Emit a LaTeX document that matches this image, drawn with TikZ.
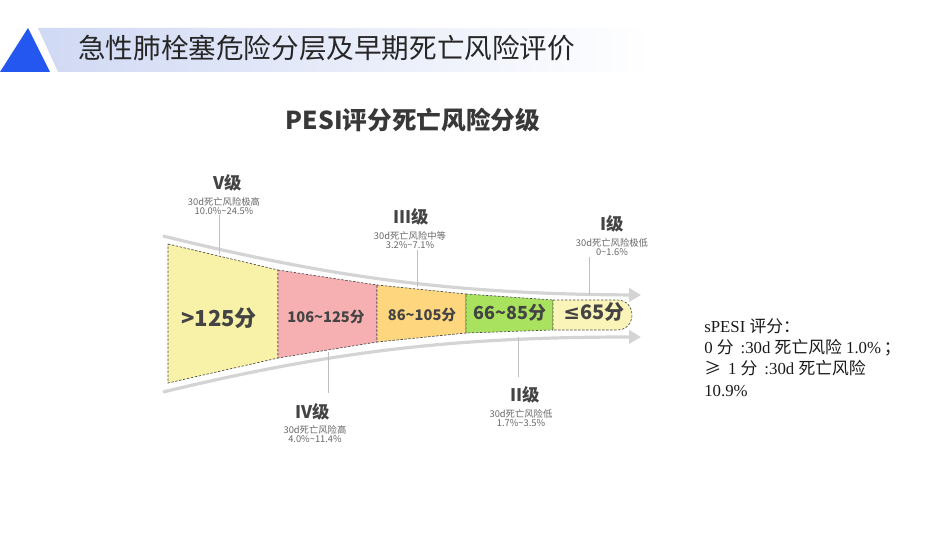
\documentclass[tikz,border=0pt]{standalone}
\usepackage{fontspec}
\setmainfont{Liberation Serif}
\newfontfamily\cjk{Noto Sans CJK SC}
\newfontfamily\djv{DejaVu Sans}
\usetikzlibrary{arrows.meta}
\definecolor{triblue}{HTML}{2457F0}
\definecolor{bandblue}{HTML}{D0D9F4}
\definecolor{segyellow}{HTML}{F8F2A8}
\definecolor{segpink}{HTML}{F6B0B2}
\definecolor{segorange}{HTML}{FDD67E}
\definecolor{seggreen}{HTML}{A9E25E}
\definecolor{segpale}{HTML}{FAF4B8}
\definecolor{txtdark}{HTML}{444444}
\newcommand\zh[1]{{\cjk #1}}
\begin{document}
\begin{tikzpicture}[x=0.75pt,y=-0.75pt,
  segbox/.style={draw=black!70, dash pattern=on 1.8pt off 1.2pt, line width=0.5pt},
  segtxt/.style={font=\cjk\bfseries, text=txtdark, inner sep=0pt},
  lvl/.style={font=\cjk\bfseries\fontsize{13}{15}\selectfont, text=txtdark, inner sep=0pt},
  smalltxt/.style={font=\cjk\fontsize{7}{6.6}\selectfont, text=black!60, align=center, inner sep=0pt},
  leader/.style={draw=black!25, line width=0.7pt},
  grayband/.style={draw=black!17, line width=2.4pt, -{Triangle[length=9pt,width=10pt]}}]
\useasboundingbox (0,0) rectangle (950,535);
% title bar
\shade[left color=bandblue, right color=white] (38,28) -- (650,28) -- (650,72) -- (58,72) -- cycle;
\fill[triblue] (0,72) -- (28,28) -- (50,72) -- cycle;
\node[anchor=west, font=\cjk\fontsize{20.7}{24}\selectfont, text=black!85, inner sep=0pt] (title) at (78,48) {急性肺栓塞危险分层及早期死亡风险评价};
% chart title
\node[font=\cjk\bfseries\fontsize{18.5}{22}\selectfont, text=black!78, inner sep=0pt] (pesi) at (413,120) {PESI评分死亡风险分级};
% gray band arrows
\coordinate (ua) at (163,236);
\coordinate (ub) at (641,295);
\coordinate (la) at (163,392);
\coordinate (lb) at (641,337);
\draw[grayband] (ua) .. controls (330,277) and (450,294) .. (ub);
\draw[grayband] (la) .. controls (330,352) and (450,337) .. (lb);
% segments
\filldraw[segbox, fill=segyellow] (168,244) -- (278,270) -- (278,358) -- (168,383) -- cycle;
\filldraw[segbox, fill=segpink] (278,270) -- (377,285) -- (377,342) -- (278,358) -- cycle;
\filldraw[segbox, fill=segorange] (377,285) -- (466,294) -- (466,333) -- (377,342) -- cycle;
\filldraw[segbox, fill=seggreen] (466,294) -- (553,300) -- (553,330) -- (466,333) -- cycle;
\filldraw[segbox, fill=segpale] (553,300) -- (617,300) .. controls (637,300) and (637,330) .. (617,330) -- (553,330) -- cycle;
\node[segtxt, font=\cjk\bfseries\fontsize{16.5}{18}\selectfont] (s1) at (219,318) {>125分};
\node[segtxt, font=\cjk\bfseries\fontsize{11}{13}\selectfont] (s2) at (326,317) {106\textasciitilde125分};
\node[segtxt, font=\cjk\bfseries\fontsize{11}{13}\selectfont] (s3) at (422,315) {86\textasciitilde105分};
\node[segtxt, font=\cjk\bfseries\fontsize{13.5}{15}\selectfont] (s4) at (510,313) {66\textasciitilde85分};
\node[segtxt, font=\cjk\bfseries\fontsize{15}{17}\selectfont] (s5) at (594,312) {{\djv\bfseries ≤}65分};
% level V
\node[lvl] (v) at (228,183) {V级};
\node[smalltxt] (vd) at (224,206) {30d死亡风险极高\\10.0\%\textasciitilde24.5\%};
\coordinate (vt) at (219,215);
\coordinate (vb) at (219,254);
\draw[leader] (vt) -- (vb);
% level III
\node[lvl] (iii) at (411,217) {III级};
\node[smalltxt] (iiid) at (410,240) {30d死亡风险中等\\3.2\%\textasciitilde7.1\%};
\coordinate (iiit) at (417,250);
\coordinate (iiib) at (417,287);
\draw[leader] (iiit) -- (iiib);
% level I
\node[lvl] (i) at (612,224) {I级};
\node[smalltxt] (id) at (612,247) {30d死亡风险极低\\0\textasciitilde1.6\%};
\coordinate (it) at (589,257);
\coordinate (ib) at (589,295);
\draw[leader] (it) -- (ib);
% level IV
\coordinate (ivt) at (328,352);
\coordinate (ivb) at (328,393);
\draw[leader] (ivt) -- (ivb);
\node[lvl] (iv) at (313,412) {IV级};
\node[smalltxt] (ivd) at (315,434.5) {30d死亡风险高\\4.0\%\textasciitilde11.4\%};
% level II
\coordinate (iit) at (518,337);
\coordinate (iib) at (518,377);
\draw[leader] (iit) -- (iib);
\node[lvl] (ii) at (525,395) {II级};
\node[smalltxt] (iid) at (521,418) {30d死亡风险低\\1.7\%\textasciitilde3.5\%};
% sPESI text
\node[anchor=north west, align=left, inner sep=0pt, font=\fontsize{12.6}{15.9}\selectfont, text=black!90] (spesi) at (704,318.5)
{sPESI \zh{评分：}\\
0 \zh{分} \,:30d \zh{死亡风险} 1.0\%\,\zh{；}\\
\zh{≥} \,1 \zh{分} \,:30d \zh{死亡风险}\\
10.9\%};
\end{tikzpicture}
\end{document}
